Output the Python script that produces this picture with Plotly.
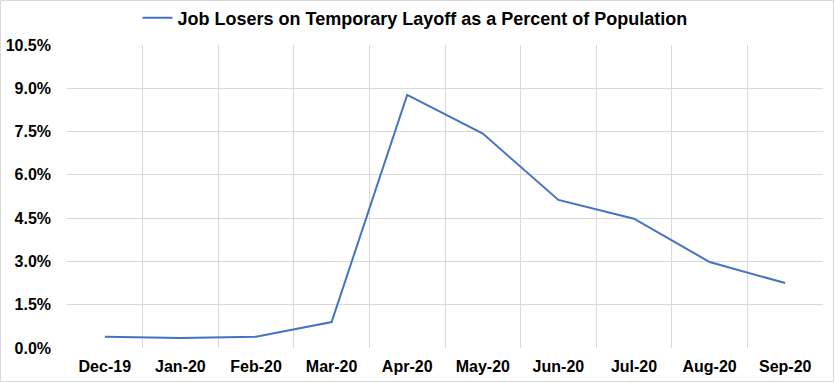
import plotly.graph_objects as go

months = ["Dec-19", "Jan-20", "Feb-20", "Mar-20", "Apr-20", "May-20", "Jun-20", "Jul-20", "Aug-20", "Sep-20"]
pct = [0.39, 0.35, 0.39, 0.90, 8.77, 7.43, 5.13, 4.48, 2.98, 2.25]
series_name = "Job Losers on Temporary Layoff as a Percent of Population"
ytick_vals = [0, 1.5, 3.0, 4.5, 6.0, 7.5, 9.0, 10.5]
ytick_text = ["0.0%", "1.5%", "3.0%", "4.5%", "6.0%", "7.5%", "9.0%", "10.5%"]

W, H = 835, 383
ml, mr, mt, mb = 67, 12, 45, 35
pw, ph = W - ml - mr, H - mt - mb

fig = go.Figure()
fig.add_trace(go.Scatter(x=months, y=pct, mode="lines", name=series_name,
                         line=dict(color="#4472C4", width=2)))

fig.update_layout(
    width=W, height=H,
    margin=dict(l=ml, r=mr, t=mt, b=mb, autoexpand=False),
    paper_bgcolor="white", plot_bgcolor="white",
    font=dict(family="Liberation Sans, Arial", color="black"),
    showlegend=True,
    legend=dict(orientation="h", x=0.497, xanchor="center", xref="container",
                y=1 - 18 / H, yanchor="middle", yref="container",
                font=dict(size=18, color="black", weight="bold"),
                itemwidth=30, bgcolor="rgba(0,0,0,0)"),
    xaxis=dict(type="category", range=[-0.5, 9.5], tickson="boundaries", showgrid=True,
               gridcolor="#d9d9d9", gridwidth=1, ticks="", showline=False, zeroline=False,
               automargin=False,
               tickfont=dict(size=16, weight="bold"), ticklabelstandoff=7),
    yaxis=dict(range=[0, 10.5], tickvals=ytick_vals, ticktext=ytick_text, showgrid=True,
               gridcolor="#d9d9d9", gridwidth=1, zeroline=False, showline=False,
               automargin=False,
               tickfont=dict(size=16, weight="bold"), ticklabelstandoff=15),
)

fig.add_shape(type="rect", xref="paper", yref="paper",
              x0=-(ml - 0.5) / pw, x1=1 + (mr - 1.5) / pw,
              y0=-(mb - 1.5) / ph, y1=1 + (mt - 0.5) / ph,
              line=dict(color="#d9d9d9", width=1), layer="below")

fig.write_html("out.html", config={"displayModeBar": False},
               post_script="document.body.style.margin='0';")
